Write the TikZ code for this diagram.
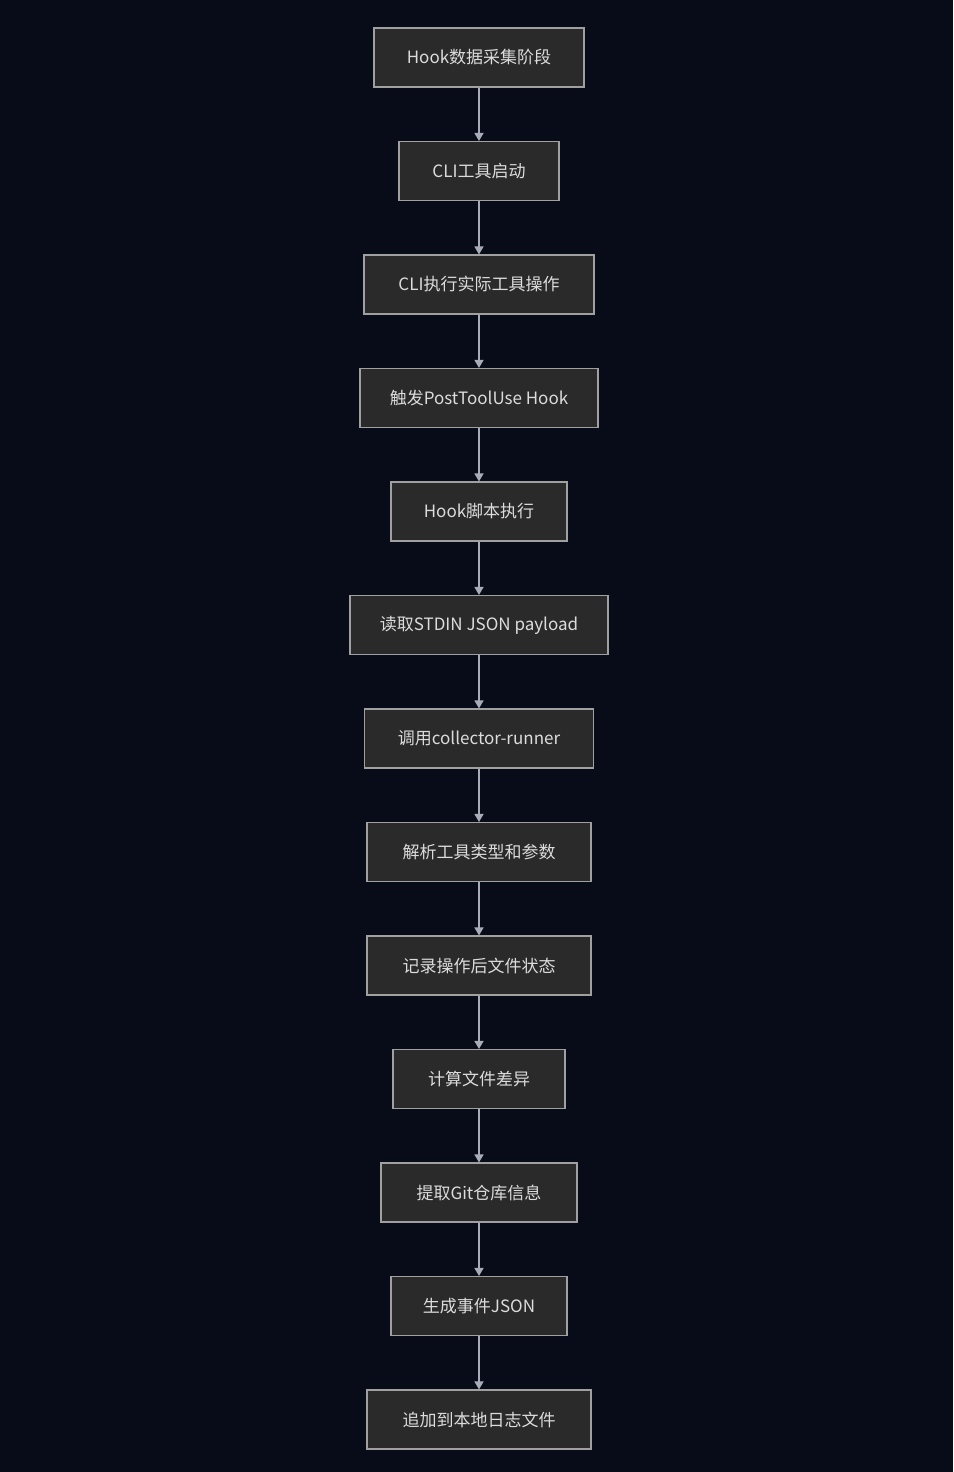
\documentclass[tikz,border=0pt]{standalone}
\usepackage{fontspec}
\setmainfont{Noto Sans CJK SC}
\usetikzlibrary{arrows.meta}
\definecolor{bgc}{HTML}{080C18}
\definecolor{boxfill}{HTML}{2A2A2A}
\definecolor{boxline}{HTML}{A0A0A0}
\definecolor{txt}{HTML}{DCDCDC}
\definecolor{edgec}{HTML}{A8ACB8}
\tikzset{
  stepbox/.style={draw=boxline, fill=boxfill, line width=1.1pt, text=txt,
    minimum height=59pt, inner sep=0pt, font=\fontsize{17pt}{20pt}\selectfont},
  flow/.style={draw=edgec, line width=1.3pt, -{Triangle[length=8pt,width=9pt]}}
}
\begin{document}
\begin{tikzpicture}[x=1pt,y=-1pt]
\fill[bgc] (0,0) rectangle (953,1472);
\useasboundingbox (0,0) rectangle (953,1472);
\node[stepbox, minimum width=210pt] (n1) at (479,57.5) {Hook数据采集阶段};
\node[stepbox, minimum width=160pt] (n2) at (479,171) {CLI工具启动};
\node[stepbox, minimum width=230pt] (n3) at (479,284.5) {CLI执行实际工具操作};
\node[stepbox, minimum width=238pt] (n4) at (479,398) {触发PostToolUse Hook};
\node[stepbox, minimum width=176pt] (n5) at (479,511.5) {Hook脚本执行};
\node[stepbox, minimum width=258pt] (n6) at (479,625) {读取STDIN JSON payload};
\node[stepbox, minimum width=229pt] (n7) at (479,738.5) {调用collector-runner};
\node[stepbox, minimum width=224pt] (n8) at (479,852) {解析工具类型和参数};
\node[stepbox, minimum width=224pt] (n9) at (479,965.5) {记录操作后文件状态};
\node[stepbox, minimum width=172pt] (n10) at (479,1079) {计算文件差异};
\node[stepbox, minimum width=196pt] (n11) at (479,1192.5) {提取Git仓库信息};
\node[stepbox, minimum width=176pt] (n12) at (479,1306) {生成事件JSON};
\node[stepbox, minimum width=224pt] (n13) at (479,1419.5) {追加到本地日志文件};
\foreach \a/\b in {n1/n2,n2/n3,n3/n4,n4/n5,n5/n6,n6/n7,n7/n8,n8/n9,n9/n10,n10/n11,n11/n12,n12/n13}
  \draw[flow] (\a.south) -- (\b.north);
\end{tikzpicture}
\end{document}
